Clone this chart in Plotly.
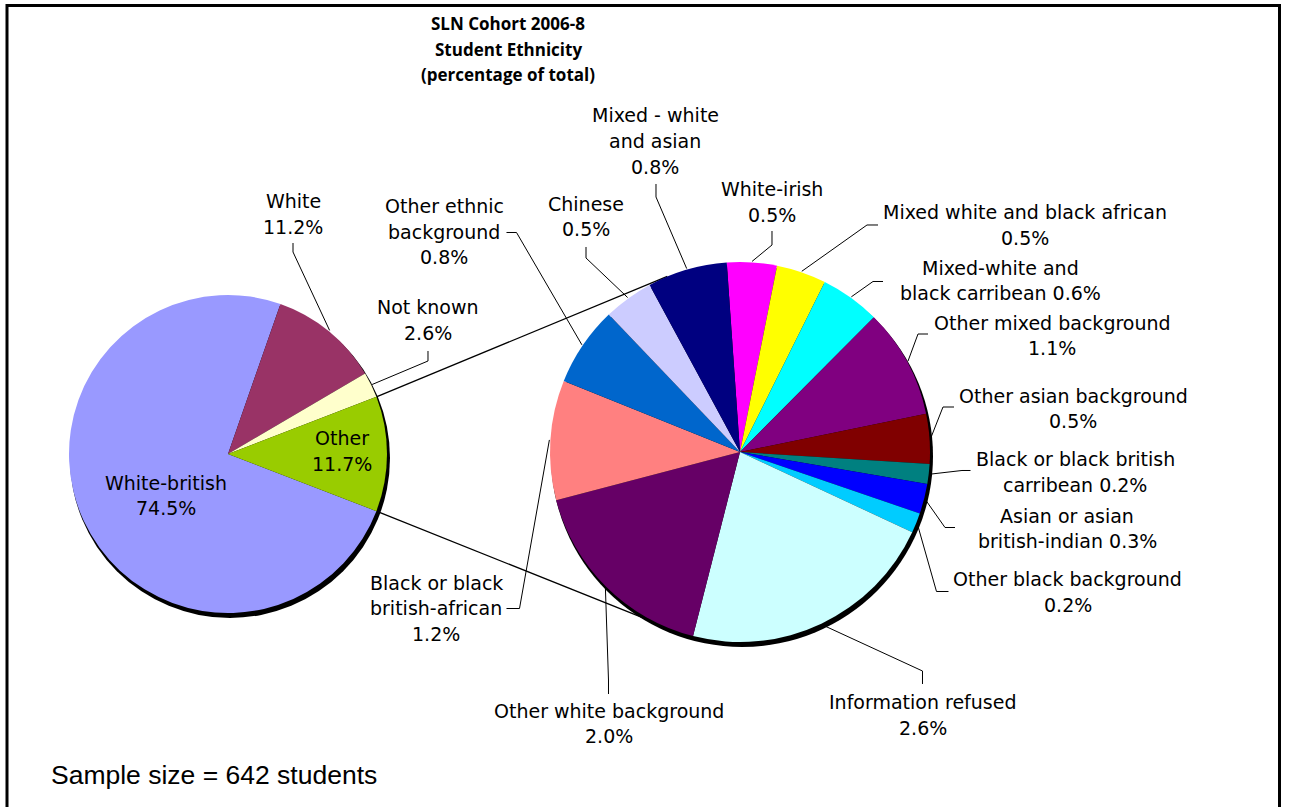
import math
import plotly.graph_objects as go

W, H = 1289, 807

# ---- data -------------------------------------------------------------
main_labels = ["White-british", "White", "Not known", "Other"]
main_values = [74.5, 11.2, 2.6, 11.7]
main_colors = ["#9999FF", "#993366", "#FFFFCC", "#99CC00"]
main_text = ["White-british\n{p}", "White\n{p}", "Not known\n{p}", "Other\n{p}"]

sub_labels = [
    "White-irish", "Mixed white and black african", "Mixed-white and black carribean",
    "Other mixed background", "Other asian background", "Black or black british carribean",
    "Asian or asian british-indian", "Other black background", "Information refused",
    "Other white background", "Black or black british-african", "Other ethnic background",
    "Chinese", "Mixed - white and asian",
]
sub_values = [0.5, 0.5, 0.6, 1.1, 0.5, 0.2, 0.3, 0.2, 2.6, 2.0, 1.2, 0.8, 0.5, 0.8]
sub_colors = [
    "#FF00FF", "#FFFF00", "#00FFFF", "#800080", "#800000", "#008080", "#0000FF",
    "#00CCFF", "#CCFFFF", "#660066", "#FF8080", "#0066CC", "#CCCCFF", "#000080",
]
sub_text = [
    "White-irish\n{p}",
    "Mixed white and black african\n{p}",
    "Mixed-white and\nblack carribean {p}",
    "Other mixed background\n{p}",
    "Other asian background\n{p}",
    "Black or black british\ncarribean {p}",
    "Asian or asian\nbritish-indian {p}",
    "Other black background\n{p}",
    "Information refused\n{p}",
    "Other white background\n{p}",
    "Black or black\nbritish-african\n{p}",
    "Other ethnic\nbackground\n{p}",
    "Chinese\n{p}",
    "Mixed - white\nand asian\n{p}",
]
title_lines = ["SLN Cohort 2006-8", "Student Ethnicity", "(percentage of total)"]
sample_size = 642

# ---- layout (pixels) --------------------------------------------------
MAIN_PIE = (228, 454, 159)     # centre x, centre y, radius
SUB_PIE = (740, 452, 190)
SUB_ROTATION = -4
LINE_STEP = 25.5
LABEL_FONT = dict(family="DejaVu Sans", size=19, color="#000000")
TITLE_FONT = dict(family="Open Sans, DejaVu Sans", size=17, color="#000000")

main_label_pos = [(166, 482.5), (293, 201), (428, 307), (342, 438)]
main_leader = [None, ((293, 243), (293, 252)), ((428, 351), (428, 361)), None]

sub_label_pos = [
    (772, 189), (1025, 212.5), (1000, 267.5), (1052, 322.5), (1073, 395.5),
    (1075, 459), (1067, 515.5), (1067.5, 579), (923, 702), (608.5, 710.5),
    (436, 582.5), (444, 206), (586, 204), (655, 115.5),
]
sub_leader = [
    ((772, 231), (772, 245)),
    ((878, 225), (867, 225)),
    ((883, 281.5), (873, 281.5)),
    ((928, 334), (918, 334)),
    ((954, 407), (943, 407)),
    ((970.5, 470.5), (962, 470.5)),
    ((955, 527.5), (945, 527.5)),
    ((948.5, 591.5), (936.5, 591.5)),
    ((922.5, 684), (922.5, 671)),
    ((608.5, 694), (608.5, 680)),
    ((506.5, 608.5), (519.5, 608.5)),
    ((506.5, 232.5), (516.5, 232.5)),
    ((586, 247), (586, 258)),
    ((656, 184), (656, 197)),
]


def px(x, y):
    return x / W, 1 - y / H


def domain(pie):
    cx, cy, r = pie
    return dict(x=[(cx - r) / W, (cx + r) / W], y=[1 - (cy + r) / H, 1 - (cy - r) / H])


def on_circle(pie, ang, extra=0.0):
    cx, cy, r = pie
    a = math.radians(ang)
    return cx + (r + extra) * math.sin(a), cy - (r + extra) * math.cos(a)


def mid_angles(values, rotation):
    total = sum(values)
    out, acc = [], rotation
    for v in values:
        span = v / total * 360
        out.append(acc + span / 2)
        acc += span
    return out


def fmt(v):
    return f"{v:.1f}%"


# "Other" is centred on 3 o'clock; White-british starts where it ends
other_deg = main_values[3] / sum(main_values) * 360
main_rotation = 90 + other_deg / 2

fig = go.Figure()
fig.add_trace(go.Pie(
    labels=main_labels, values=main_values, sort=False, direction="clockwise",
    rotation=main_rotation, marker=dict(colors=main_colors, line=dict(width=0)),
    textinfo="none", domain=domain(MAIN_PIE), showlegend=False,
))
fig.add_trace(go.Pie(
    labels=sub_labels, values=sub_values, sort=False, direction="clockwise",
    rotation=SUB_ROTATION, marker=dict(colors=sub_colors, line=dict(width=0)),
    textinfo="none", domain=domain(SUB_PIE), showlegend=False,
))

shapes = []

# drop shadows behind both pies
for pie in (MAIN_PIE, SUB_PIE):
    cx, cy, r = pie
    dx, dy, grow = 2, 4, 1
    x0, y1 = px(cx - r - grow + dx, cy - r - grow + dy)
    x1, y0 = px(cx + r + grow + dx, cy + r + grow + dy)
    shapes.append(dict(type="circle", xref="paper", yref="paper", x0=x0, x1=x1, y0=y0, y1=y1,
                       fillcolor="#000000", line=dict(width=0), layer="below"))


# connector lines from the edges of "Other" to tangents of the breakdown pie
def tangent(p, pie, upper):
    cx, cy, r = pie
    vx, vy = p[0] - cx, p[1] - cy
    d = math.hypot(vx, vy)
    base = math.atan2(vy, vx)
    a = math.acos(r / d)
    cands = [(cx + r * math.cos(base + s * a), cy + r * math.sin(base + s * a)) for s in (1, -1)]
    cands.sort(key=lambda q: q[1])
    return cands[0] if upper else cands[1]


for ang, upper in ((90 - other_deg / 2, True), (90 + other_deg / 2, False)):
    p = on_circle(MAIN_PIE, ang)
    q = tangent(p, SUB_PIE, upper)
    a, b = px(*p), px(*q)
    shapes.append(dict(type="line", xref="paper", yref="paper", x0=a[0], y0=a[1], x1=b[0], y1=b[1],
                       line=dict(color="#000000", width=1.3), layer="below"))


def leader_path(start, elbow, end):
    pts = [px(*start), px(*elbow), px(*end)]
    return "M {:.5f},{:.5f} L {:.5f},{:.5f} L {:.5f},{:.5f}".format(*pts[0], *pts[1], *pts[2])


main_mid = mid_angles(main_values, main_rotation)
for i, ld in enumerate(main_leader):
    if ld:
        end = on_circle(MAIN_PIE, main_mid[i], 1)
        shapes.append(dict(type="path", xref="paper", yref="paper", path=leader_path(ld[0], ld[1], end),
                           line=dict(color="#000000", width=1), layer="above"))

sub_mid = mid_angles(sub_values, SUB_ROTATION)
for i, ld in enumerate(sub_leader):
    end = on_circle(SUB_PIE, sub_mid[i], 1)
    shapes.append(dict(type="path", xref="paper", yref="paper", path=leader_path(ld[0], ld[1], end),
                       line=dict(color="#000000", width=1), layer="above"))

# outer frame
fx0, fy1 = px(7, 5.5)
fx1, _ = px(1279.5, 0)
shapes.append(dict(type="rect", xref="paper", yref="paper", x0=fx0, x1=fx1, y0=-0.05, y1=fy1,
                   line=dict(color="#000000", width=3), fillcolor="rgba(0,0,0,0)", layer="above"))

annotations = []


def add_block(lines, pos, font, step=LINE_STEP):
    x, y = pos
    for k, line in enumerate(lines):
        ax, ay = px(x, y + k * step)
        annotations.append(dict(x=ax, y=ay, xref="paper", yref="paper", text=line, showarrow=False,
                                xanchor="center", yanchor="middle", font=font))


for tpl, v, pos in zip(main_text, main_values, main_label_pos):
    add_block(tpl.format(p=fmt(v)).split("\n"), pos, LABEL_FONT)
for tpl, v, pos in zip(sub_text, sub_values, sub_label_pos):
    add_block(tpl.format(p=fmt(v)).split("\n"), pos, LABEL_FONT)

add_block(["<b>" + t + "</b>" for t in title_lines], (508, 24), TITLE_FONT)

sx, sy = px(49, 775)
annotations.append(dict(x=sx, y=sy, xref="paper", yref="paper", text=f"Sample size = {sample_size} students",
                        showarrow=False, xanchor="left", yanchor="middle",
                        font=dict(family="Liberation Sans, Arial", size=26.5, color="#000000")))

fig.update_layout(
    width=W, height=H, margin=dict(l=0, r=0, t=0, b=0),
    paper_bgcolor="#FFFFFF", plot_bgcolor="#FFFFFF", showlegend=False,
    shapes=shapes, annotations=annotations,
)

fig.write_html("out.html")
